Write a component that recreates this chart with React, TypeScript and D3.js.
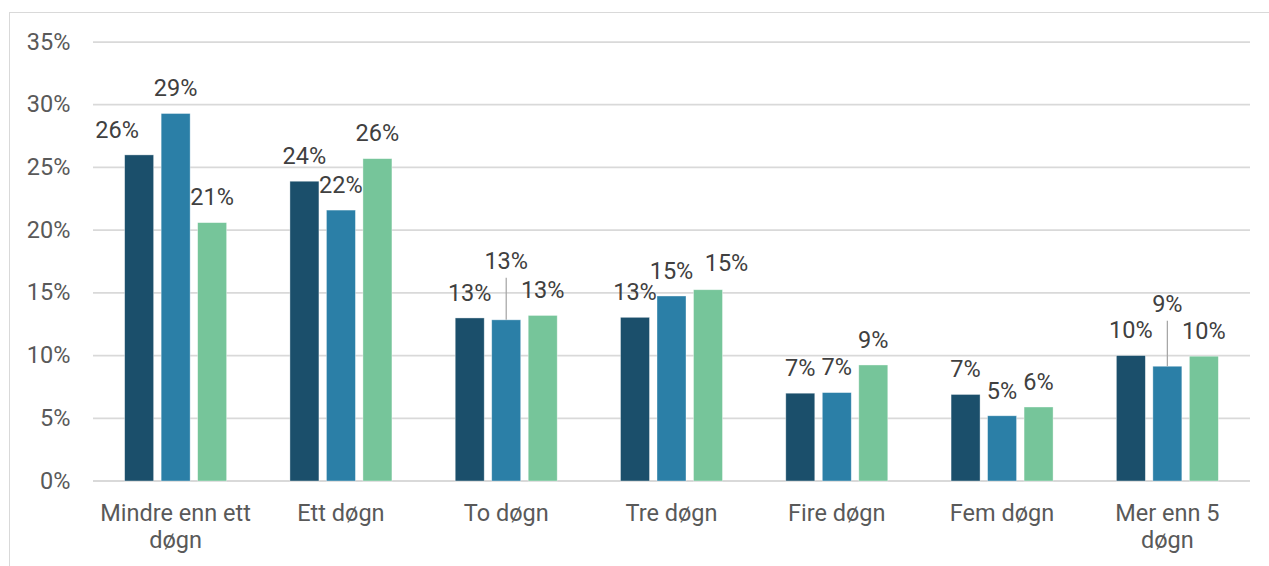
import React from "react";
import * as d3 from "d3";

const categories = ["Mindre enn ett døgn", "Ett døgn", "To døgn", "Tre døgn", "Fire døgn", "Fem døgn", "Mer enn 5 døgn"];
const seriesNames = ["Serie 1", "Serie 2", "Serie 3"];
const series1 = [26.0, 23.9, 13.0, 13.05, 7.0, 6.9, 10.0];
const series2 = [29.3, 21.6, 12.85, 14.75, 7.05, 5.2, 9.15];
const series3 = [20.6, 25.7, 13.2, 15.25, 9.25, 5.9, 9.95];
const yTicks = [0, 5, 10, 15, 20, 25, 30, 35];
const seriesColors = ["#1b4f6b", "#2b7fa7", "#76c59a"];
// label nudges (series index, category index, dx, dy, leader line)
const labelNudges = [
  { s: 0, g: 0, dx: -22, dy: 0, leader: false },
  { s: 1, g: 2, dx: 0, dy: -34, leader: true },
  { s: 2, g: 3, dx: 18.5, dy: -2, leader: false },
  { s: 1, g: 6, dx: 0, dy: -37.5, leader: true },
];

const W = 1269;
const H = 566;
const FONT = "Roboto, 'Noto Sans', sans-serif";
const FS = 23.5;

function wrap(text: string, maxWidth: number): string[] {
  const canvas = document.createElement("canvas");
  const ctx = canvas.getContext("2d")!;
  ctx.font = `${FS}px Roboto`;
  const words = text.split(" ");
  const lines: string[] = [];
  let cur = "";
  for (const w of words) {
    const t = cur ? cur + " " + w : w;
    if (ctx.measureText(t).width > maxWidth && cur) {
      lines.push(cur);
      cur = w;
    } else cur = t;
  }
  if (cur) lines.push(cur);
  return lines;
}

export default function App() {
  const data = [series1, series2, series3];
  const x0 = d3.scaleBand<string>().domain(categories).range([93, 1250]).padding(0);
  const x1 = d3.scaleBand<string>().domain(seriesNames).range([-54.75, 54.75]).paddingInner(0.2055).paddingOuter(0.10275);
  const y = d3.scaleLinear().domain([0, 35]).range([481, 42]);
  const fmt = (v: number) => `${Math.round(v)}%`;

  return (
    <div style={{ position: "absolute", left: 0, top: 0, width: W, height: H, background: "#fff" }}>
      <svg width={W} height={H} style={{ display: "block", fontFamily: FONT }}>
        <rect x={9.5} y={12.5} width={W + 20} height={H + 20} fill="#fff" stroke="#d9d9d9" strokeWidth={1} />
        {yTicks.map((t) => (
          <g key={t}>
            <line x1={93} x2={1250} y1={y(t)} y2={y(t)} stroke="#d9d9d9" strokeWidth={t === 0 ? 2 : 1.75} />
            <text x={70.5} y={y(t) + 7.5} textAnchor="end" fontSize={FS} fill="#595959">
              {`${t}%`}
            </text>
          </g>
        ))}
        {data.map((vals, si) =>
          vals.map((v, gi) => {
            const bx = (x0(categories[gi]) as number) + x0.bandwidth() / 2 + (x1(seriesNames[si]) as number);
            return (
              <rect
                key={`b${si}-${gi}`}
                x={bx}
                y={y(v)}
                width={x1.bandwidth()}
                height={y(0) - y(v)}
                fill={seriesColors[si]}
                stroke="#ffffff"
                strokeOpacity={0.5}
                strokeWidth={0.75}
              />
            );
          })
        )}
        {data.map((vals, si) =>
          vals.map((v, gi) => {
            const cx = (x0(categories[gi]) as number) + x0.bandwidth() / 2 + (x1(seriesNames[si]) as number) + x1.bandwidth() / 2;
            const nudge = labelNudges.find((n) => n.s === si && n.g === gi);
            const dx = nudge ? nudge.dx : 0;
            const dy = nudge ? nudge.dy : 0;
            const centerY = y(v) - 25.5 + dy;
            return (
              <g key={`l${si}-${gi}`}>
                {nudge && nudge.leader && (
                  <line x1={cx + dx} x2={cx + dx} y1={centerY + 17.5} y2={y(v)} stroke="#a6a6a6" strokeWidth={1.25} />
                )}
                <text x={cx + dx} y={centerY + 8.3} textAnchor="middle" fontSize={FS} fill="#404040">
                  {fmt(v)}
                </text>
              </g>
            );
          })
        )}
        {categories.map((c) => {
          const cx = (x0(c) as number) + x0.bandwidth() / 2;
          const lines = wrap(c, 158);
          return (
            <text key={c} textAnchor="middle" fontSize={FS} fill="#595959">
              {lines.map((ln, i) => (
                <tspan key={i} x={cx} y={521 + i * 27}>
                  {ln}
                </tspan>
              ))}
            </text>
          );
        })}
      </svg>
    </div>
  );
}
